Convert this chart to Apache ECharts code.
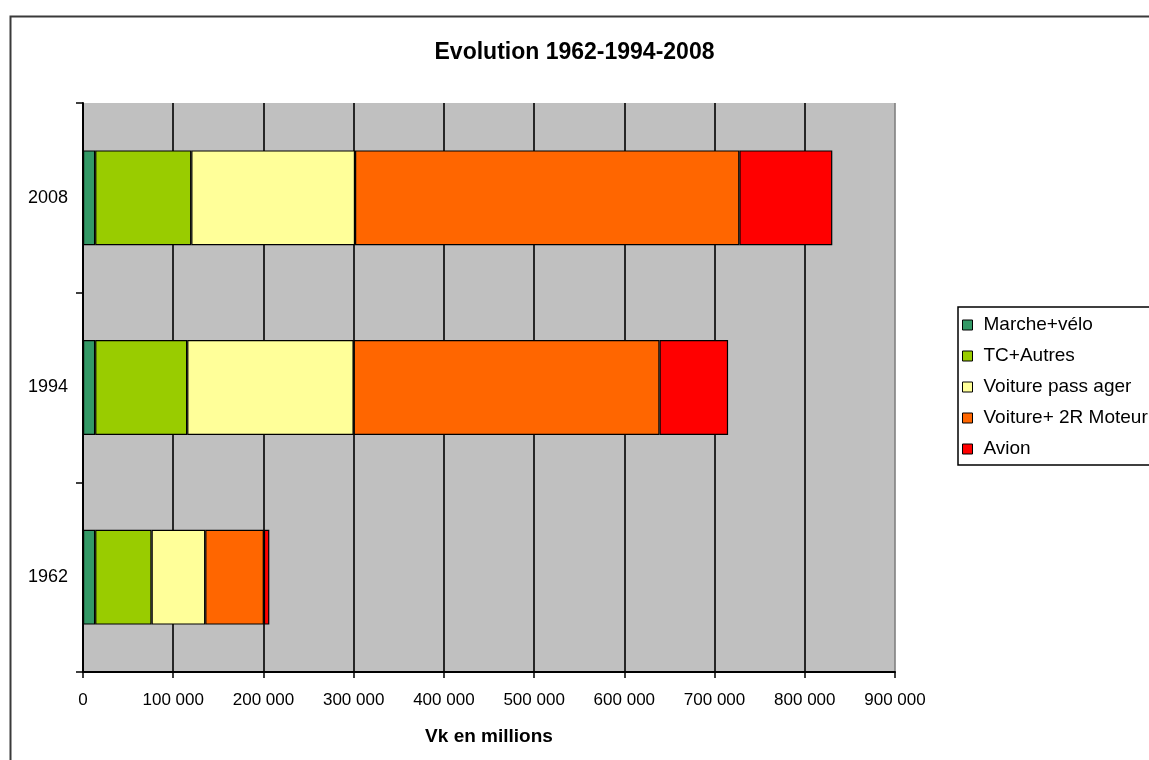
<!DOCTYPE html>
<html>
<head>
<meta charset="utf-8">
<title>Evolution 1962-1994-2008</title>
<script src="https://cdn.jsdelivr.net/npm/echarts@6/dist/echarts.min.js"></script>
<style>
  html, body { margin: 0; padding: 0; background: #fff; }
  #chart { width: 1149px; height: 760px; }
</style>
</head>
<body>
<div id="chart"></div>
<script>
// Years (bottom to top)
const years = ['1962', '1994', '2008'];

// Traffic by mode, Vk en millions
const marcheVelo      = [13500, 13500, 13500];
const tcAutres        = [62500, 102000, 106500];
const voiturePassager = [59500, 184500, 181500];
const voiture2R       = [65000, 339000, 426000];
const avion           = [6000, 76000, 103000];

const seriesNames = ['Marche+vélo', 'TC+Autres', 'Voiture pass ager', 'Voiture+ 2R Moteur', 'Avion'];
const seriesValues = [marcheVelo, tcAutres, voiturePassager, voiture2R, avion];
const seriesColors = ['#339966', '#99CC00', '#FFFF99', '#FF6600', '#FF0000'];

const xTicks = [0, 100000, 200000, 300000, 400000, 500000, 600000, 700000, 800000, 900000];

const fontFamily = '"Liberation Sans", Arial, sans-serif';

function fmt(v) {
  return String(v).replace(/\B(?=(\d{3})+(?!\d))/g, ' ');
}

const chart = echarts.init(document.getElementById('chart'), null, { renderer: 'canvas' });

// grid line colours: black inside, grey on the right edge of the plot
const splitColors = xTicks.map((t, i) => (i === xTicks.length - 1 ? '#808080' : '#000000'));

chart.setOption({
  backgroundColor: '#ffffff',
  animation: false,
  textStyle: { fontFamily: fontFamily, color: '#000' },
  title: {
    text: 'Evolution 1962-1994-2008',
    left: 'center',
    top: 36,
    textStyle: { fontFamily: fontFamily, fontSize: 23, fontWeight: 'bold', color: '#000' }
  },
  graphic: [{
    type: 'rect',
    left: 8, top: 14,
    shape: { width: 1400, height: 1000 },
    style: { fill: 'none', stroke: '#3a3a3a', lineWidth: 2 },
    silent: true,
    z: 100
  }],
  legend: {
    orient: 'vertical',
    left: 958,
    top: 307,
    padding: [8, 30, 6, 4],
    itemGap: 11,
    itemWidth: 10,
    itemHeight: 10,
    borderColor: '#000',
    borderWidth: 1.5,
    backgroundColor: '#fff',
    icon: 'rect',
    itemStyle: { borderColor: '#000', borderWidth: 1 },
    textStyle: { fontFamily: fontFamily, fontSize: 19, lineHeight: 20, color: '#000', padding: [0, 0, 0, 6] },
    data: seriesNames
  },
  grid: {
    left: 83,
    right: 254,
    top: 103,
    bottom: 88,
    show: true,
    backgroundColor: '#C0C0C0',
    borderWidth: 0,
    containLabel: false
  },
  xAxis: {
    type: 'value',
    min: 0,
    max: 900000,
    interval: 100000,
    name: 'Vk en millions',
    nameLocation: 'middle',
    nameGap: 55,
    nameTextStyle: { fontFamily: fontFamily, fontSize: 19, fontWeight: 'bold', color: '#000' },
    axisLine: { show: true, lineStyle: { color: '#000', width: 2 } },
    axisTick: { show: true, length: 6, lineStyle: { color: '#000', width: 1.5 } },
    axisLabel: { fontFamily: fontFamily, fontSize: 17, color: '#000', margin: 20, formatter: fmt },
    splitLine: { show: true, lineStyle: { color: splitColors, width: 1.6 } }
  },
  yAxis: {
    type: 'category',
    data: years,
    axisLine: { show: true, lineStyle: { color: '#000', width: 2 } },
    axisTick: { show: true, length: 7, lineStyle: { color: '#000', width: 1.5 } },
    axisLabel: { fontFamily: fontFamily, fontSize: 18, color: '#000', margin: 15 },
    splitLine: { show: false }
  },
  series: seriesNames.map((name, i) => ({
    name: name,
    type: 'bar',
    stack: 'total',
    barCategoryGap: '50%',
    data: seriesValues[i],
    itemStyle: { color: seriesColors[i], borderColor: '#000', borderWidth: 1.2 },
    emphasis: { disabled: true }
  }))
});
</script>
</body>
</html>
